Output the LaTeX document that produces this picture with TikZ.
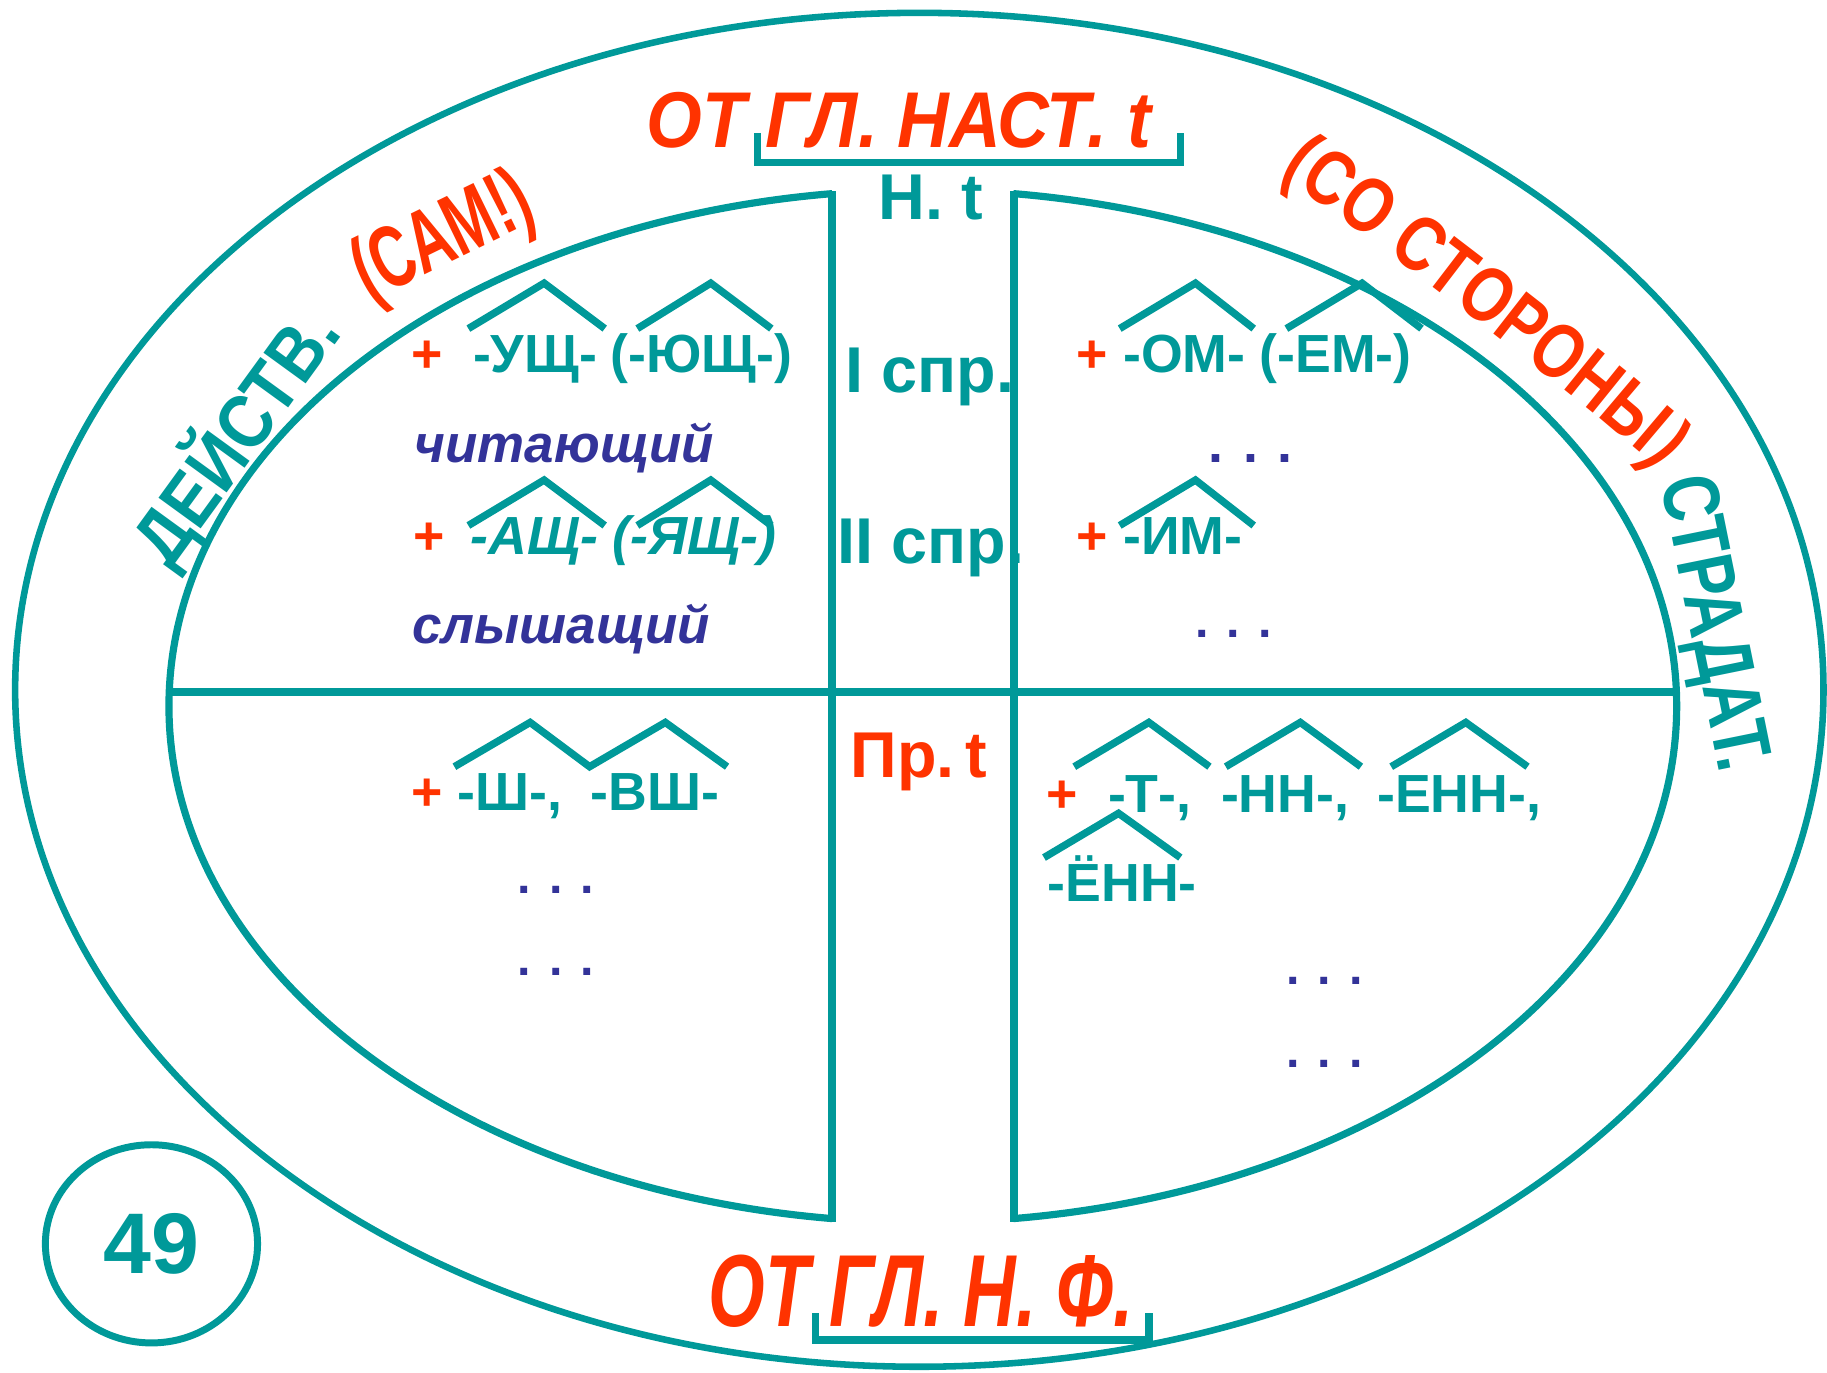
\documentclass[tikz,border=0pt]{standalone}
\usepackage{fontspec}
\setmainfont{Liberation Sans}
\newfontfamily\fTop[FakeStretch=0.905]{Liberation Sans}
\newfontfamily\fBot[FakeStretch=0.71]{Liberation Sans}
\newfontfamily\fSam[FakeStretch=0.66]{Liberation Sans}
\newfontfamily\fSide[FakeStretch=0.80]{Liberation Sans}
\newfontfamily\fStr[FakeStretch=0.78]{Liberation Sans}
\newfontfamily\fDei[FakeStretch=0.88]{Liberation Sans}
\usetikzlibrary{decorations.text,shapes.geometric}
\definecolor{teal0}{RGB}{0,153,153}
\definecolor{red0}{RGB}{255,51,0}
\definecolor{blue0}{RGB}{51,51,153}
\newcommand\myfs[1]{\fontsize{#1}{#1}\selectfont}
\tikzset{
  outerln/.style={draw=teal0, line width=1.6pt},
  innerln/.style={draw=teal0, line width=1.75pt},
  axisln/.style={draw=teal0, line width=1.9pt},
  roof/.style={draw=teal0, line width=1.8pt, line join=miter},
  brk/.style={draw=teal0, line width=1.8pt},
  txt/.style={inner sep=0pt, outer sep=0pt, anchor=base west},
  suf/.style={txt, text=teal0, font=\myfs{13.1}\bfseries},
  sufi/.style={txt, text=teal0, font=\myfs{13.1}\bfseries\itshape},
  plus/.style={txt, text=red0, font=\myfs{13.1}\bfseries},
  ex/.style={txt, text=blue0, font=\myfs{12.9}\bfseries\itshape},
  dotsA/.style={txt, text=blue0, font=\myfs{13.1}\bfseries},
  dotsB/.style={txt, text=blue0, font=\myfs{11.8}\bfseries},
  mid/.style={txt, text=teal0, font=\myfs{15.8}\bfseries},
}
\begin{document}
\begin{tikzpicture}[x=0.01cm, y=-0.01cm]
\fill[white] (0,0) rectangle (1568,1178);
\useasboundingbox (0,0) rectangle (1568,1178);
% outer ellipse
\draw[outerln] (789,592) ellipse [x radius=776, y radius=581];
% inner ellipse halves
\begin{scope}
  \clip (0,0) rectangle (714,1178);
  \draw[innerln] (792,606) ellipse [x radius=647, y radius=443];
\end{scope}
\begin{scope}
  \clip (870,0) rectangle (1568,1178);
  \draw[innerln] (792,606) ellipse [x radius=647, y radius=443];
\end{scope}
\draw[axisln] (714,164) -- (714,1049);
\draw[axisln] (870,164) -- (870,1049);
\draw[axisln] (145,594) -- (1440,594);
% brackets
\draw[brk] (650,114) -- (650,139.5) -- (1013,139.5) -- (1013,114);
\draw[brk] (700,1127) -- (700,1150) -- (986,1150) -- (986,1127);
% titles
\node[txt, text=red0, font=\fTop\myfs{19.3}\bfseries\itshape] (top) at (555,127) {ОТ ГЛ. НАСТ. t};
\node[txt, text=red0, font=\fBot\myfs{25}\bfseries\itshape] (bot) at (608,1138.6) {ОТ ГЛ. Н. Ф.};
% curved labels
\node[txt, rotate=54, text=teal0, font=\fDei\myfs{18.5}\bfseries] (dei) at (146,490) {ДЕЙСТВ.};
\node[txt, rotate=26, text=red0, font=\fSam\myfs{21.5}\bfseries] (sam) at (317,259) {(САМ!)};
\node[txt, rotate=-78.5, text=teal0, font=\fStr\myfs{19.5}\bfseries] (str) at (1425,413) {СТРАДАТ.};
\begin{scope}[y=0.01cm]
  \path[decorate, decoration={text along path, text color=red0,
      text format delimiters={|}{|},
      text={|\fSide\myfs{19}\bfseries|(СО СТОРОНЫ)}}]
    (1098,-150) .. controls (1132.6,-170) and (1387.2,-365.3) .. (1414,-395) -- (1470,-462);
\end{scope}
% number
\node[ellipse, draw=teal0, line width=1.7pt, minimum width=1.82cm, minimum height=1.70cm,
      inner sep=0pt, text=teal0, font=\myfs{21}\bfseries] (n49) at (130,1067.5) {49};
% centre column
\node[mid] (nt) at (754,188.5) {Н. t};
\node[mid] (s1) at (726,337) {I спр.};
\node[mid] (s2) at (719,483.5) {II спр.};
\node[mid, text=red0] (pt) at (730,667) {Пр.\,t};
% left upper
\node[plus] (p1) at (353,320) {+};
\node[suf] (u1) at (406,320) {-УЩ-};
\node[suf] (u2) at (524,320) {(-ЮЩ-)};
\node[ex] (e1) at (356,397) {читающий};
\node[plus] (p2) at (355,476) {+};
\node[sufi] (a1) at (404,476) {-АЩ-};
\node[sufi] (a2) at (526,476) {(-ЯЩ-)};
\node[ex] (e2) at (354,552) {слышащий};
% right upper
\node[plus] (p3) at (924,320) {+};
\node[suf] (o1) at (964,320) {-ОМ-};
\node[suf] (o2) at (1081,320) {(-ЕМ-)};
\node[dotsA] (d1) at (1037,397) {. . .};
\node[plus] (p4) at (924,476) {+};
\node[suf] (i1) at (964,476) {-ИМ-};
\node[dotsB] (d2) at (1026,547) {. . .};
% left lower
\node[plus] (p5) at (353,696) {+};
\node[suf] (sh1) at (393,696) {-Ш-,};
\node[suf] (sh2) at (507,696) {-ВШ-};
\node[dotsB] (d3) at (444.5,767) {. . .};
\node[dotsB] (d4) at (444.5,837) {. . .};
% right lower
\node[plus] (p6) at (898,697) {+};
\node[suf] (t1) at (951,697) {-Т-,};
\node[suf] (t2) at (1048,697) {-НН-,};
\node[suf] (t3) at (1182,697) {-ЕНН-,};
\node[suf] (t4) at (899,774) {-ЁНН-};
\node[dotsB] (d5) at (1104,845) {. . .};
\node[dotsB] (d6) at (1104,916) {. . .};
% suffix roofs
\draw[roof] (402,282) -- (467,243) -- (519,282);
\draw[roof] (547,282) -- (610,243) -- (662,282);
\draw[roof] (402,451) -- (467,412) -- (519,451);
\draw[roof] (547,451) -- (610,412) -- (662,451);
\draw[roof] (961,282) -- (1026,243) -- (1076,282);
\draw[roof] (1104,282) -- (1169,243) -- (1220,282);
\draw[roof] (961,451) -- (1026,412) -- (1076,451);
\draw[roof] (390,658) -- (455,620) -- (506,658) -- (571,620) -- (624,658);
\draw[roof] (922,658) -- (986,620) -- (1038,658);
\draw[roof] (1052,658) -- (1116,620) -- (1168,658);
\draw[roof] (1194,658) -- (1258,620) -- (1311,658);
\draw[roof] (896,736) -- (960,698) -- (1013,736);
\end{tikzpicture}
\end{document}
